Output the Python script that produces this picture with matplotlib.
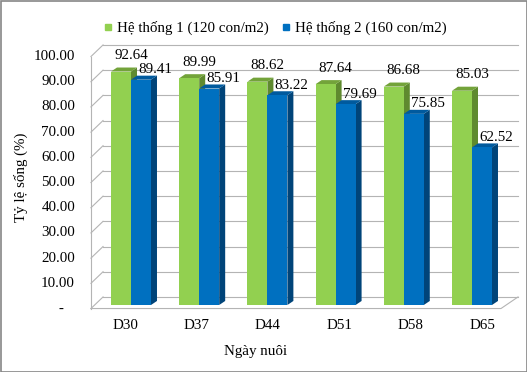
import matplotlib
matplotlib.use("Agg")
import matplotlib.pyplot as plt
from matplotlib.patches import Polygon, Rectangle
from matplotlib.lines import Line2D

plt.rcParams['font.family'] = ['Liberation Serif', 'DejaVu Serif']

# data
days = ['D30', 'D37', 'D44', 'D51', 'D58', 'D65']
system1 = [92.64, 89.99, 88.62, 87.64, 86.68, 85.03]
system2 = [89.41, 85.91, 83.22, 79.69, 75.85, 62.52]
series_names = ['Hệ thống 1 (120 con/m2)', 'Hệ thống 2 (160 con/m2)']
yticks = [0, 10, 20, 30, 40, 50, 60, 70, 80, 90, 100]

# colours (front, top, side)
green = ('#92D050', '#73A33A', '#5F8A2F')
blue = ('#0070C0', '#005A9E', '#004479')
grid_c = '#B4B4B4'
FS = 10.8

fig = plt.figure(figsize=(5.27, 3.72), dpi=100)
ax = fig.add_axes([0, 0, 1, 1])
# one category = 68.2 px, bar floor at pixel row 305, 2.52 px per unit
ax.set_xlim(-131 / 68.2, 396 / 68.2)
ax.set_ylim(-67 / 2.52, 305 / 2.52)
ax.axis('off')

# fake 3d geometry (in data units)
bw = 0.293            # width of one bar
ddx, ddy = 0.088, 1.6  # depth of a bar
back_dy = 3.2          # back wall sits above the bar plane
left_front, left_back = -0.587, -0.41
right_front, right_back = 5.425, 5.675


def front(v):
    return v - 1.4


# back wall gridlines + left wall diagonals
for v in yticks:
    ax.plot([left_back, right_back], [v + back_dy, v + back_dy], color=grid_c, lw=0.8, zorder=1)
    ax.plot([left_front, left_back], [front(v), v + back_dy], color=grid_c, lw=0.8, zorder=1)
    lab = '-   ' if v == 0 else '%.2f' % v
    ax.text(-0.821, front(v), lab, ha='right', va='center', fontsize=FS)

# left wall front edge and the floor
ax.plot([left_front, left_front], [front(0), front(100)], color=grid_c, lw=0.8, zorder=1)
ax.plot([left_front, right_front, right_back], [front(0), front(0), back_dy], color=grid_c, lw=0.8, zorder=1)


def bar3d(x0, v, cols):
    x1 = x0 + bw
    ax.add_patch(Polygon([(x1, 0), (x1, v), (x1 + ddx, v + ddy), (x1 + ddx, ddy)],
                         closed=True, fc=cols[2], ec='none', zorder=2))
    ax.add_patch(Polygon([(x0, v), (x1, v), (x1 + ddx, v + ddy), (x0 + ddx, v + ddy)],
                         closed=True, fc=cols[1], ec='none', zorder=2))
    ax.add_patch(Rectangle((x0, 0), bw, v, fc=cols[0], ec='none', zorder=2))


for i, (a, b) in enumerate(zip(system1, system2)):
    bar3d(i - bw, a, green)
    bar3d(i, b, blue)
    ax.annotate('%.2f' % a, (i - bw / 2, a), xytext=(7.2, 11.5), textcoords='offset points',
                ha='center', va='center', fontsize=FS, zorder=3)
    ax.annotate('%.2f' % b, (i + bw / 2, b), xytext=(10, 7.2), textcoords='offset points',
                ha='center', va='center', fontsize=FS, zorder=3)
    # category labels sit on the front plane, spread a bit by perspective
    xl = 1.87 + (i - 1.87) * 1.047
    ax.text(xl, -8.3, days[i], ha='center', va='center', fontsize=FS)

ax.text(1.83, -18.6, 'Ngày nuôi', ha='center', va='center', fontsize=FS)
ax.text(-1.61, 50.5, 'Tỷ lệ sống (%)', ha='center', va='center', rotation=90, fontsize=FS)

handles = [Line2D([], [], ls='none', marker='s', ms=5, color=green[0]),
           Line2D([], [], ls='none', marker='s', ms=5, color=blue[0])]
fig.legend(handles, series_names, loc='center', bbox_to_anchor=(275 / 527, 1 - 28 / 372),
           ncol=2, frameon=False, fontsize=FS, handlelength=0.6, handletextpad=0.25,
           columnspacing=0.9, borderaxespad=0)

# chart area border
fig.add_artist(Rectangle((0.5 / 527, 0.5 / 372), 526 / 527, 371 / 372, transform=fig.transFigure,
                         fill=False, ec='#868686', lw=1.2))

fig.savefig('out.png', dpi=100)
